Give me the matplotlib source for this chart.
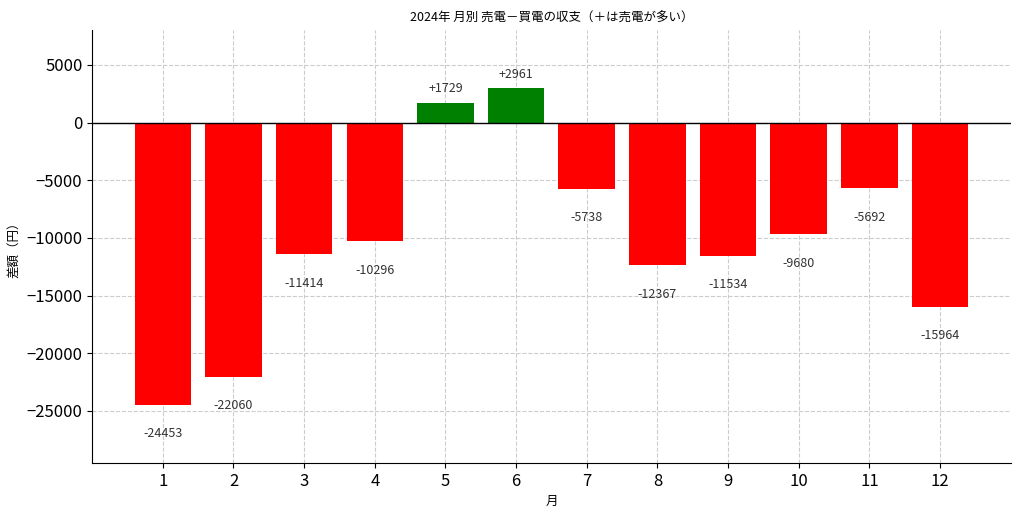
import matplotlib
matplotlib.use("Agg")
import matplotlib.pyplot as plt

plt.rcParams['font.family'] = ['Noto Sans CJK JP', 'DejaVu Sans']

months = [1, 2, 3, 4, 5, 6, 7, 8, 9, 10, 11, 12]
diff = [-24453, -22060, -11414, -10296, 1729, 2961, -5738, -12367, -11534, -9680, -5692, -15964]

fig = plt.figure(figsize=(10.24, 5.12), dpi=100)
ax = fig.add_axes([0.09, 0.096, 0.897, 0.845])
colors = ['green' if v > 0 else 'red' for v in diff]
ax.bar(months, diff, color=colors, width=0.8, zorder=2)
ax.axhline(0, color='black', linewidth=1, zorder=3)
for m, v in zip(months, diff):
    if v > 0:
        ax.text(m, v + 1200, f"+{v}", ha='center', va='center', fontsize=9, color='#333333')
    else:
        ax.text(m, v - 2500, f"{v}", ha='center', va='center', fontsize=9, color='#333333')
ax.set_xticks(months)
ax.set_xticklabels([str(m) for m in months])
ax.set_ylim(-29500, 8000)
ax.set_xlim(0.0, 13.0)
ax.tick_params(axis='both', labelsize=12)
ax.grid(True, linestyle='--', color='#cccccc', linewidth=0.8, zorder=0)
ax.spines['top'].set_visible(False)
ax.spines['right'].set_visible(False)
ax.set_title('2024年 月別 売電－買電の収支（＋は売電が多い）', fontsize=9)
ax.set_xlabel('月', fontsize=9)
ax.set_ylabel('差額（円）', fontsize=9)
fig.savefig('out.png', dpi=100)
